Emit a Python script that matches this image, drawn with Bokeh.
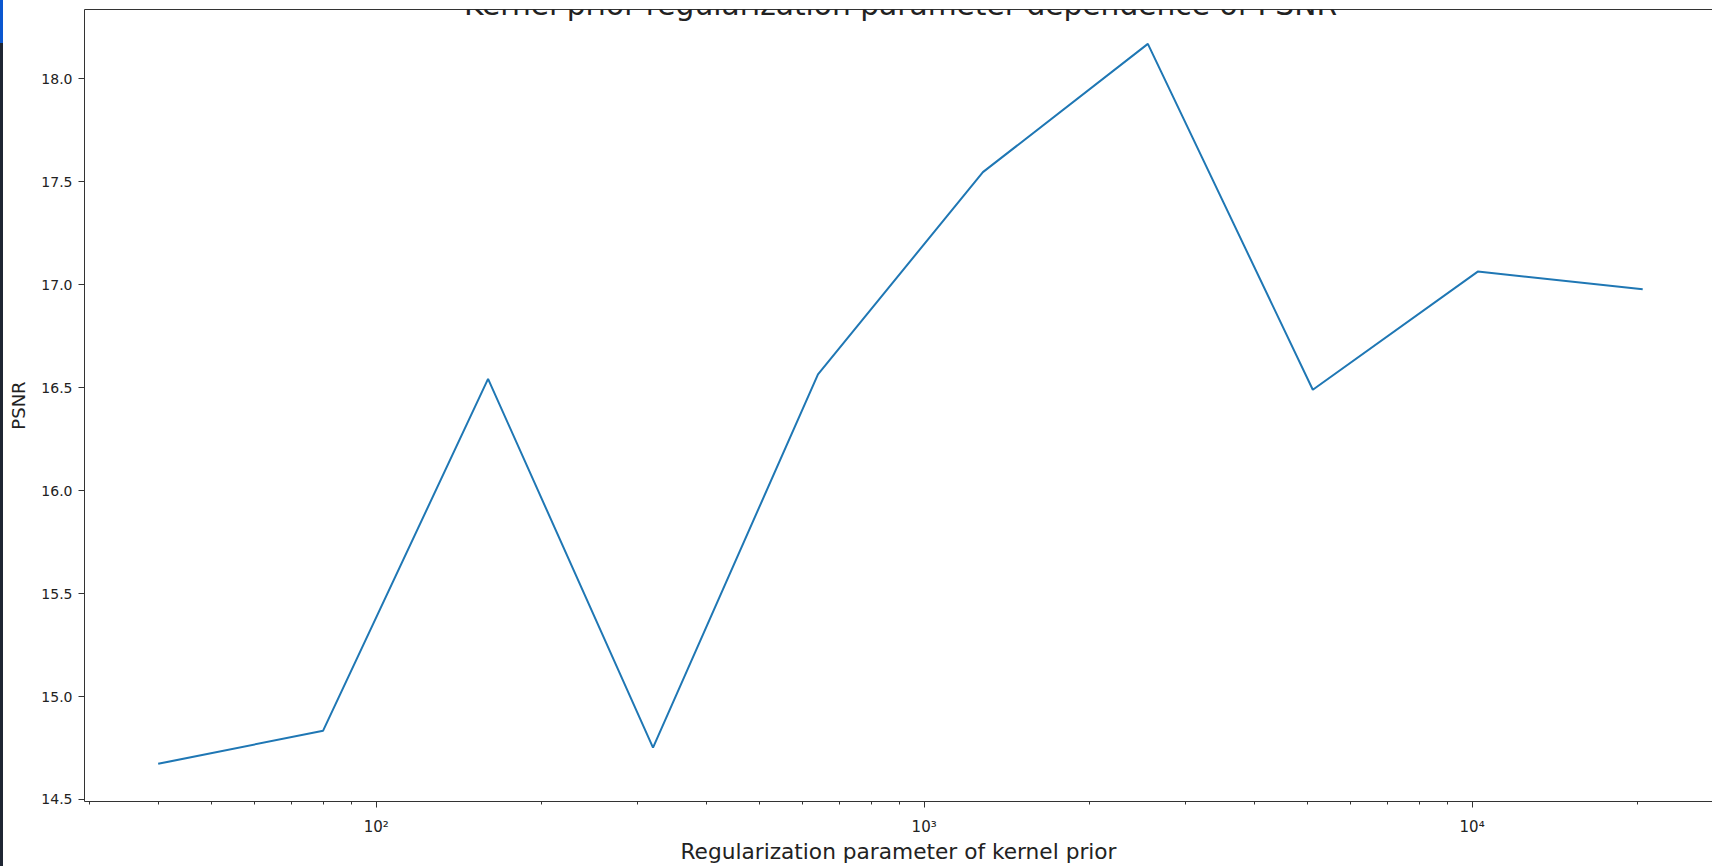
from bokeh.plotting import figure
from bokeh.models import Range1d, FixedTicker, LogAxis, Label, ColumnDataSource
from bokeh.embed import file_html
from bokeh.resources import INLINE

# ---- data ----
reg_param = [40, 80, 160, 320, 640, 1280, 2560, 5120, 10240, 20480]
psnr = [14.673, 14.834, 16.543, 14.752, 16.565, 17.547, 18.170, 16.490, 17.064, 16.978]

x_major_ticks = [100, 1000, 10000]
x_major_labels = ["10²", "10³", "10⁴"]
x_minor_ticks = [30, 40, 50, 60, 70, 80, 90,
                 200, 300, 400, 500, 600, 700, 800, 900,
                 2000, 3000, 4000, 5000, 6000, 7000, 8000, 9000,
                 20000]
y_ticks = [14.5, 15.0, 15.5, 16.0, 16.5, 17.0, 17.5, 18.0]
y_tick_labels = ["14.5", "15.0", "15.5", "16.0", "16.5", "17.0", "17.5", "18.0"]

title_text = "Kernel prior regularization parameter dependence of PSNR"
x_label = "Regularization parameter of kernel prior"
y_label = "PSNR"

FONT = "DejaVu Sans"
TXT = "#222222"
AX = "#333333"

src = ColumnDataSource(data=dict(x=reg_param, y=psnr))

p = figure(width=1712, height=866, x_axis_type="log",
           x_range=Range1d(29.35, 27460), y_range=Range1d(14.49, 18.337),
           output_backend="svg", toolbar_location=None,
           min_border_left=84, min_border_right=0, min_border_top=9, min_border_bottom=61,
           background_fill_color="white", border_fill_color=None)
# window-edge strip at the far left of the screenshot, drawn behind the transparent border
p.styles = {"background": "linear-gradient(#0b57d0,#0b57d0) 0 0/3px 43px no-repeat, "
                          "linear-gradient(#1f2633,#1f2633) 0 43px/3px 823px no-repeat, white"}
p.outline_line_color = None
p.xgrid.visible = False
p.ygrid.visible = False

p.line(x="x", y="y", source=src, line_color="#1f77b4", line_width=2)

# x axis
xa = p.xaxis[0]
xa.ticker = FixedTicker(ticks=x_major_ticks, minor_ticks=x_minor_ticks)
xa.major_label_overrides = dict(zip(x_major_ticks, x_major_labels))
xa.axis_label = x_label
xa.axis_label_text_font = FONT
xa.axis_label_text_font_size = "21.7px"
xa.axis_label_text_font_style = "normal"
xa.axis_label_text_color = TXT
xa.axis_label_standoff = 0
xa.major_label_text_font = FONT
xa.major_label_text_font_size = "15px"
xa.major_label_text_color = TXT
xa.major_label_standoff = 10
xa.axis_line_color = AX
xa.major_tick_line_color = AX
xa.minor_tick_line_color = AX
xa.major_tick_in = 0
xa.major_tick_out = 6
xa.minor_tick_in = 0
xa.minor_tick_out = 3

# y axis
ya = p.yaxis[0]
ya.ticker = FixedTicker(ticks=y_ticks, minor_ticks=[])
ya.major_label_overrides = dict(zip(y_ticks, y_tick_labels))
ya.axis_label = y_label
ya.axis_label_text_font = FONT
ya.axis_label_text_font_size = "18px"
ya.axis_label_text_font_style = "normal"
ya.axis_label_text_color = TXT
ya.axis_label_standoff = 9
ya.major_label_text_font = FONT
ya.major_label_text_font_size = "14px"
ya.major_label_text_color = TXT
ya.major_label_standoff = 6
ya.axis_line_color = AX
ya.major_tick_line_color = AX
ya.major_tick_in = 0
ya.major_tick_out = 6

# top spine
top = LogAxis(ticker=FixedTicker(ticks=[], minor_ticks=[]),
              major_label_text_font_size="0px",
              major_tick_line_color=None, minor_tick_line_color=None,
              major_tick_out=0, major_tick_in=0, minor_tick_out=0, minor_tick_in=0,
              major_label_standoff=0, axis_line_color=AX)
p.add_layout(top, "above")

# title, mostly cut off by the top of the window (as in the reference)
p.add_layout(Label(x=816, y=797, x_units="screen", y_units="screen",
                   text=title_text, text_align="center", text_baseline="alphabetic",
                   text_font=FONT, text_font_size="29.7px", text_color=TXT))

open("out.html", "w").write(file_html(p, INLINE))
